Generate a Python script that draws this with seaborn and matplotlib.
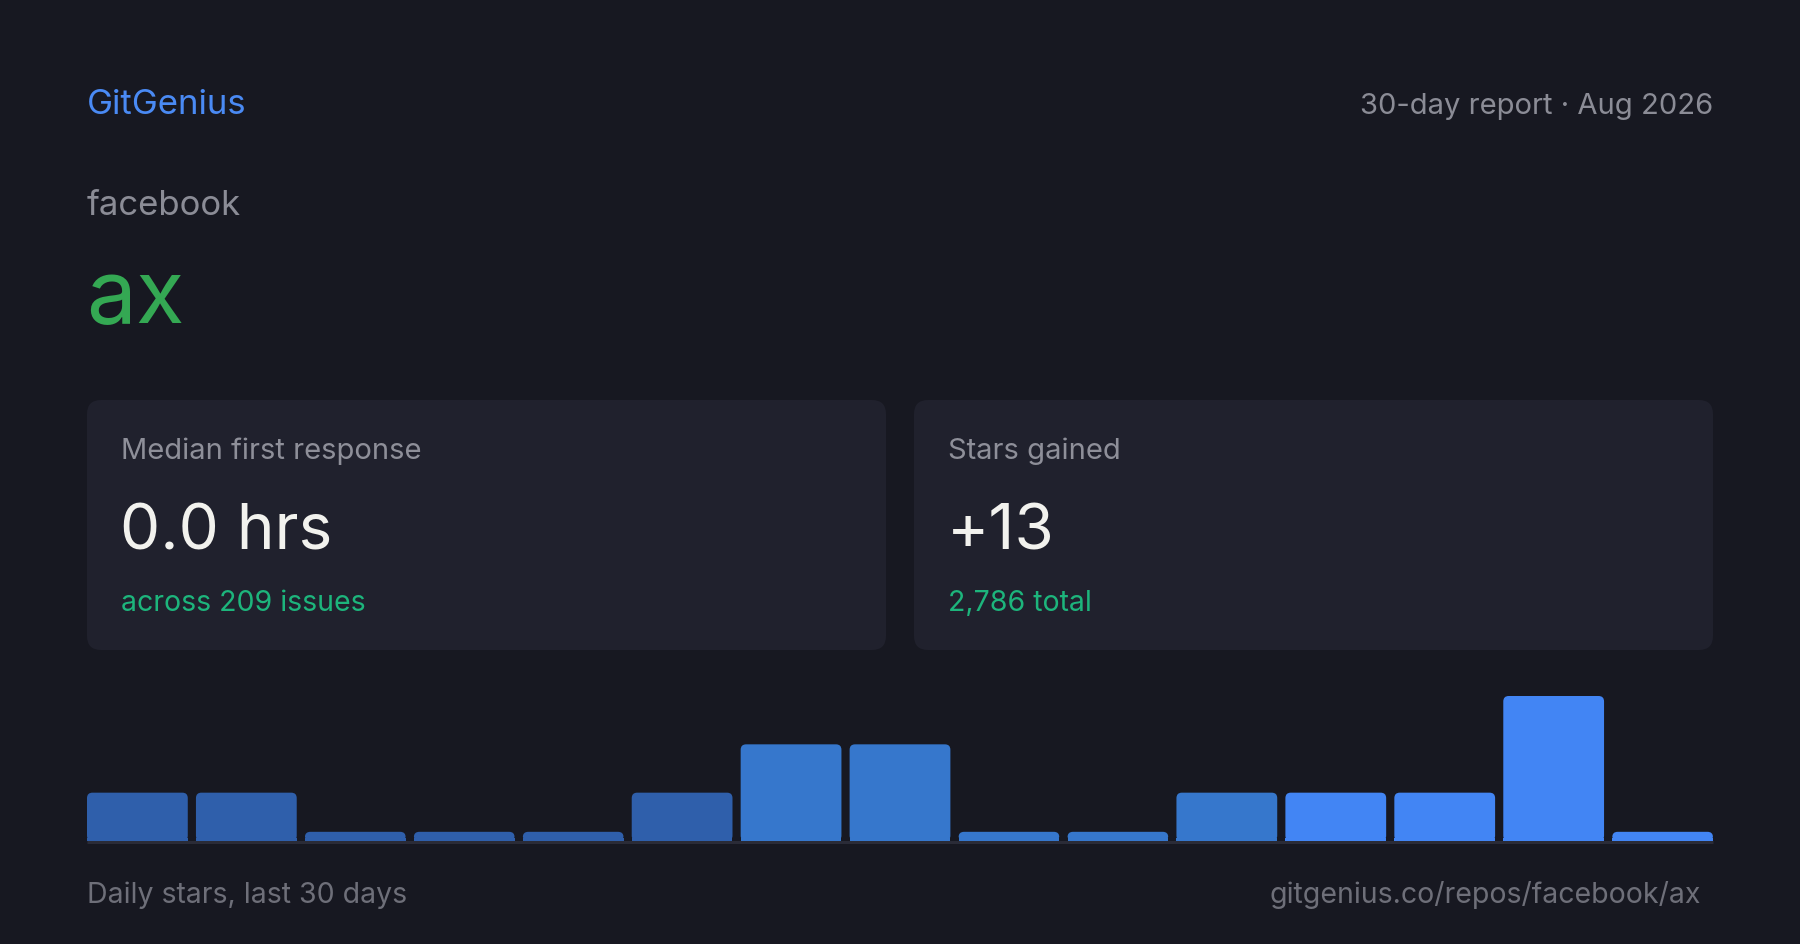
import matplotlib
matplotlib.use("Agg")
import matplotlib.pyplot as plt
from matplotlib.patches import FancyBboxPatch
import seaborn as sns
import pandas as pd
import numpy as np

# data
days = list(range(1, 16))
stars = [1, 1, 0, 0, 0, 1, 2, 2, 0, 0, 1, 1, 1, 3, 0]
bar_colors = ["#2f5fab"] * 6 + ["#3677cc"] * 5 + ["#4285f4"] * 4

brand = "GitGenius"
report = "30-day report · Aug 2026"
owner = "facebook"
repo = "ax"
card_titles = ["Median first response", "Stars gained"]
card_values = ["0.0 hrs", "+13"]
card_subs = ["across 209 issues", "2,786 total"]
foot_left = "Daily stars, last 30 days"
foot_right = "gitgenius.co/repos/facebook/ax"

BG = "#171821"
CARD = "#20212d"

sns.set_theme(style="white")
plt.rcParams["font.family"] = ["Inter", "DejaVu Sans"]

W, H = 1800, 945
fig = plt.figure(figsize=(18, 9.45), dpi=100, facecolor=BG)

# full-figure canvas in pixel coordinates
bg = fig.add_axes([0, 0, 1, 1])
bg.set_xlim(0, W)
bg.set_ylim(H, 0)
bg.axis("off")
bg.set_facecolor(BG)

bg.text(87, 114, brand, color="#4a8af4", fontsize=25, va="baseline", ha="left")
bg.text(1713, 114, report, color="#8b8c96", fontsize=21, va="baseline", ha="right")
bg.text(87, 215, owner, color="#8b8c96", fontsize=25, va="baseline", ha="left")
bg.text(86, 323, repo, color="#34a853", fontsize=64, va="baseline", ha="left")

# stat cards
for i, x0 in enumerate([87, 914]):
    card = FancyBboxPatch((x0, 401), 799, 250,
                          boxstyle="round,pad=0,rounding_size=14",
                          facecolor=CARD, edgecolor="none")
    bg.add_patch(card)
    bg.text(x0 + 34, 459, card_titles[i], color="#8e8f99", fontsize=21, va="baseline")
    bg.text(x0 + 33, 550, card_values[i], color="#f2f2ee", fontsize=46, va="baseline")
    bg.text(x0 + 34, 611, card_subs[i], color="#1db57c", fontsize=20.5, va="baseline")

bg.text(87, 903, foot_left, color="#6e6f79", fontsize=20.5, va="baseline", ha="left")
bg.text(1701, 903, foot_right, color="#6e6f79", fontsize=20.5, va="baseline", ha="right")

# baseline under the bars
bg.plot([87, 1713], [843, 843], color="#2a2b37", lw=2.2, solid_capstyle="butt")

# bar chart
top, base = 697, 842
bw = 0.925
ax = fig.add_axes([87 / W, (H - base) / H, 1626 / W, (base - top) / H])
ax.set_facecolor("none")
df = pd.DataFrame({"day": days, "stars": stars})
df["shown"] = np.maximum(df["stars"], 0.19)  # zero days keep a thin stub
sns.barplot(data=df, x="day", y="shown", hue="day", palette=bar_colors,
            width=bw, legend=False, ax=ax, saturation=1)
ax.set_xlim(-bw / 2, len(days) - 1 + bw / 2)
ax.set_ylim(0, max(stars))

# rounded tops
span = len(days) - 1 + bw
for p in list(ax.patches):
    x, y = p.get_x(), p.get_y()
    w, h = p.get_width(), p.get_height()
    fc = p.get_facecolor()
    p.remove()
    ax.add_patch(FancyBboxPatch((x, y), w, h,
                                boxstyle="round,pad=0,rounding_size=0.05",
                                mutation_aspect=(max(stars) / (base - top)) / (span / 1626),
                                facecolor=fc, edgecolor="none"))
    ax.add_patch(plt.Rectangle((x, y), w, min(h, 0.06), facecolor=fc, edgecolor="none"))

ax.set_xlabel("")
ax.set_ylabel("")
ax.set_xticks([])
ax.set_yticks([])
sns.despine(ax=ax, left=True, bottom=True)

fig.savefig("out.png", dpi=100, facecolor=BG)
